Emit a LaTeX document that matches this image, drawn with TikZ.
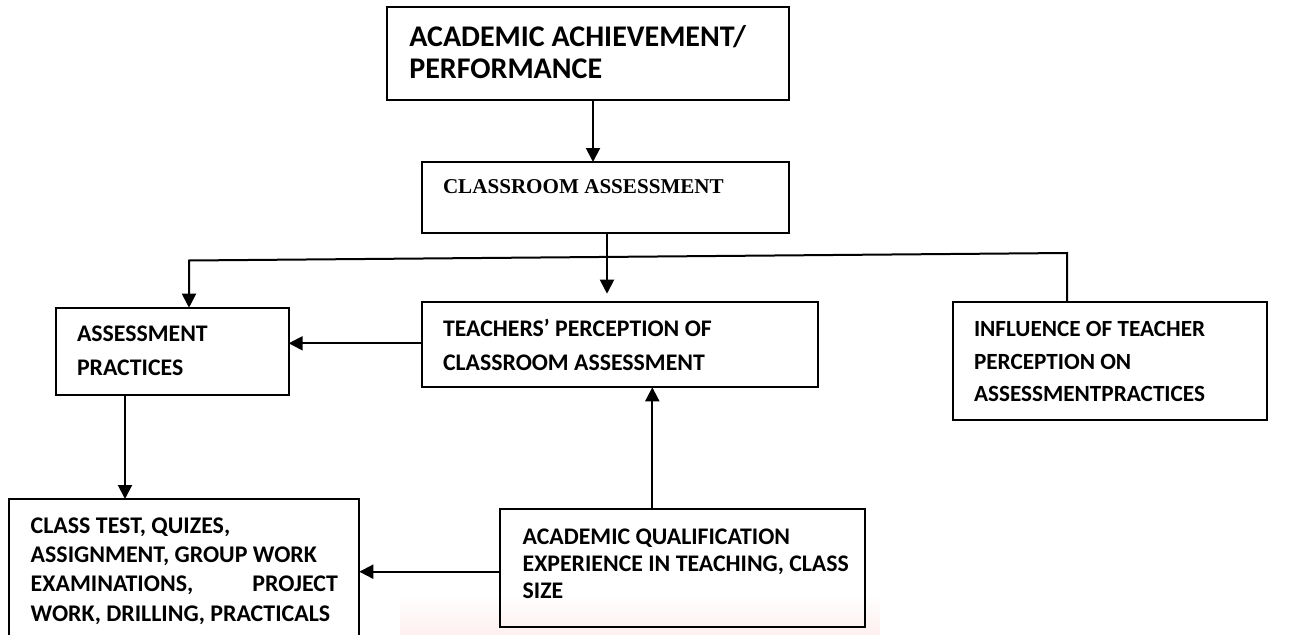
\documentclass[tikz,border=0pt]{standalone}
\usepackage{fontspec}
\setmainfont{Carlito}
\newfontfamily\timesfont{Liberation Serif}
\usetikzlibrary{arrows.meta}

\begin{document}
\begin{tikzpicture}[x=1pt, y=-1pt,
  box/.style={draw, line width=2pt, inner sep=0pt, outer sep=0pt, anchor=north west},
  label/.style={anchor=base west, inner sep=0pt, outer sep=0pt, align=left, font=\bfseries},
  arr/.style={line width=2pt, -{Triangle[width=14pt, length=14pt]}}
]
\useasboundingbox (0,0) rectangle (1300,634);

% faint background mark behind the lower half
\shade[top color=white, bottom color=red!10, opacity=0.6] (400,595) rectangle (880,634);

% boxes (anchored at their top-left corner)
\node[box, minimum width=402pt, minimum height=93.3pt]  (top) at (387.3,6.7) {};
\node[box, minimum width=367.3pt, minimum height=70.7pt] (cls) at (421.7,162) {};
\node[box, minimum width=233pt, minimum height=87.3pt]  (ap)  at (55.7,307.7) {};
\node[box, minimum width=396pt, minimum height=85.6pt]  (tea) at (421.7,301.7) {};
\node[box, minimum width=314pt, minimum height=118.3pt] (inf) at (953.3,301.7) {};
\node[box, minimum width=350pt, minimum height=145pt]   (ct)  at (9.3,499) {};
\node[box, minimum width=365pt, minimum height=117.4pt] (aq)  at (500,509.3) {};

% texts (positioned at the baseline of their last line)
\node[label, font=\bfseries\fontsize{30}{31.6}\selectfont] (topt) at (409.3,78.3)
  {ACADEMIC ACHIEVEMENT/\\PERFORMANCE};
\node[label, font=\timesfont\bfseries\fontsize{21.1}{24}\selectfont] (clst) at (443,193)
  {CLASSROOM ASSESSMENT};
\node[label, font=\bfseries\fontsize{23.8}{34}\selectfont] (apt) at (77,375)
  {ASSESSMENT\\PRACTICES};
\node[label, font=\bfseries\fontsize{23.8}{33.3}\selectfont] (teat) at (443,370)
  {TEACHERS’ PERCEPTION OF\\CLASSROOM ASSESSMENT};
\node[label, font=\bfseries\fontsize{23.2}{32.5}\selectfont] (inft) at (974,401.7)
  {INFLUENCE OF TEACHER\\PERCEPTION ON\\ASSESSMENTPRACTICES};
\node[label, font=\bfseries\fontsize{23.9}{29.2}\selectfont] (ctt) at (30.7,621)
  {CLASS TEST, QUIZES,\\ASSIGNMENT, GROUP WORK\\\hbox to 307.3pt{EXAMINATIONS,\hfill PROJECT}\\WORK, DRILLING, PRACTICALS};
\node[label, font=\bfseries\fontsize{23.8}{27}\selectfont] (aqt) at (522.7,598)
  {ACADEMIC QUALIFICATION\\EXPERIENCE IN TEACHING, CLASS\\SIZE};

% connector columns and rows
\coordinate (c1) at (593,0);
\coordinate (c2) at (607,0);
\coordinate (c3) at (652.3,0);
\coordinate (c4) at (125,0);
\coordinate (r1) at (0,343.3);
\coordinate (r2) at (0,571.7);
\coordinate (busR) at (1067,253);
\coordinate (busL) at (189,260.5);

% connectors
\draw[arr] (top.south -| c1) -- (cls.north -| c1);
\draw[arr, shorten >=8pt] (cls.south -| c2) -- (tea.north -| c2);
\draw[arr] (inf.north -| busR) -- (busR) -- (busL) -- (ap.north -| busL);
\draw[arr] (tea.west |- r1) -- (ap.east |- r1);
\draw[arr] (aq.north -| c3) -- (tea.south -| c3);
\draw[arr] (aq.west |- r2) -- (ct.east |- r2);
\draw[arr] (ap.south -| c4) -- (ct.north -| c4);
\end{tikzpicture}
\end{document}
